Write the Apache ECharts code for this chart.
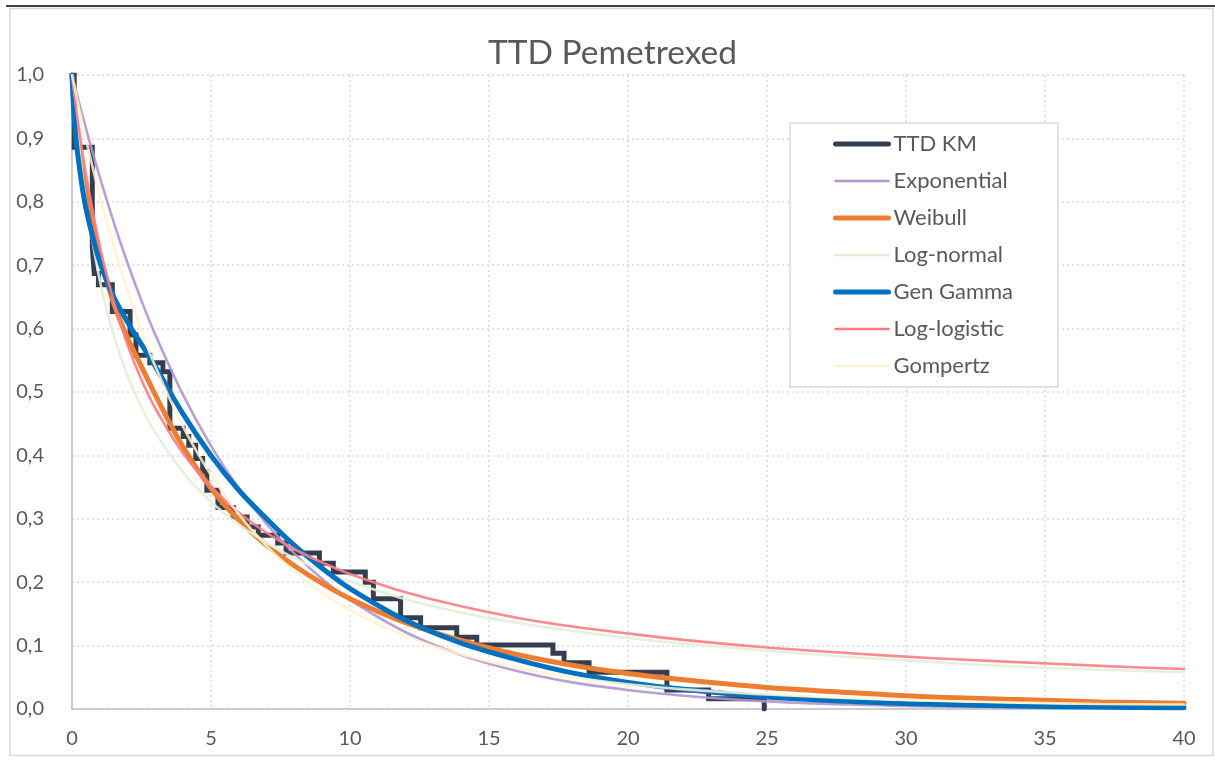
<!DOCTYPE html>
<html>
<head>
<meta charset="utf-8">
<title>TTD Pemetrexed</title>
<script src="https://cdn.jsdelivr.net/npm/echarts@6/dist/echarts.min.js"></script>
<style>
    html, body { margin: 0; padding: 0; background: #fff; }
    #main { width: 1215px; height: 760px; }
</style>
</head>
<body>
<div id="main"></div>
<script>
    // Kaplan-Meier steps (months, survival)
    const kmTime = [0, 0.08, 0.73, 0.8, 0.95, 1.45, 2.09, 2.3, 2.8, 3.27, 3.52, 4.0, 4.2, 4.45, 4.7, 4.85, 5.25, 5.8, 6.3, 6.7,
        7.4, 7.7, 8.9, 9.4, 10.55, 10.84, 11.82, 12.54, 13.84, 14.56, 17.3, 17.7, 18.6, 21.4, 22.9, 24.9];
    const kmSurv = [1.0, 0.886, 0.729, 0.687, 0.669, 0.627, 0.59, 0.558, 0.546, 0.532, 0.443, 0.43, 0.416, 0.395, 0.375, 0.345, 0.318, 0.303, 0.287, 0.274,
        0.262, 0.246, 0.23, 0.216, 0.2, 0.174, 0.144, 0.128, 0.113, 0.101, 0.088, 0.073, 0.058, 0.030, 0.016, 0.0];

    // fitted curves, read at these times
    const curveTime = [0, 0.1, 0.25, 0.5, 1, 1.5, 2, 2.5, 3, 4, 5, 6, 7, 8, 9, 10, 12, 14, 16, 18, 20, 22, 25, 28, 31, 34, 37, 40];
    const exponential = [1, 0.983, 0.957, 0.916, 0.839, 0.768, 0.703, 0.644, 0.590, 0.495, 0.415, 0.348, 0.292, 0.245, 0.205, 0.172, 0.121, 0.085, 0.060, 0.042, 0.030, 0.021, 0.012, 0.007, 0.004, 0.0025, 0.0015, 0.001];
    const weibull = [1, 0.938, 0.884, 0.817, 0.717, 0.640, 0.585, 0.54, 0.495, 0.413, 0.348, 0.298, 0.258, 0.226, 0.198, 0.174, 0.136, 0.108, 0.086, 0.069, 0.056, 0.046, 0.034, 0.026, 0.019, 0.015, 0.011, 0.009];
    const logNormal = [1, 0.960, 0.891, 0.801, 0.676, 0.590, 0.526, 0.476, 0.436, 0.373, 0.327, 0.291, 0.262, 0.238, 0.218, 0.201, 0.173, 0.152, 0.136, 0.123, 0.112, 0.103, 0.092, 0.082, 0.074, 0.067, 0.062, 0.058];
    const genGamma = [1, 0.92, 0.86, 0.79, 0.705, 0.65, 0.61, 0.575, 0.54, 0.465, 0.40, 0.345, 0.30, 0.258, 0.222, 0.19, 0.14, 0.104, 0.078, 0.057, 0.042, 0.031, 0.019, 0.012, 0.0075, 0.0047, 0.003, 0.002];
    const logLogistic = [1, 0.964, 0.915, 0.844, 0.730, 0.643, 0.574, 0.519, 0.474, 0.403, 0.351, 0.310, 0.278, 0.252, 0.231, 0.213, 0.184, 0.162, 0.144, 0.130, 0.119, 0.109, 0.097, 0.088, 0.080, 0.074, 0.068, 0.063];
    const gompertz = [1, 0.979, 0.948, 0.899, 0.809, 0.730, 0.659, 0.596, 0.540, 0.445, 0.369, 0.307, 0.257, 0.217, 0.183, 0.156, 0.115, 0.086, 0.065, 0.050, 0.039, 0.031, 0.023, 0.017, 0.013, 0.010, 0.008, 0.007];

    const yTickLabels = ['0,0', '0,1', '0,2', '0,3', '0,4', '0,5', '0,6', '0,7', '0,8', '0,9', '1,0'];
    const xTickLabels = ['0', '5', '10', '15', '20', '25', '30', '35', '40'];

    const textColor = '#595959';
    const fontName = 'Lato';
    const thick = 5;
    const thin = 2.6;

    function pairs(xs, ys) {
        let out = [];
        for (let i = 0; i < xs.length; i++) {
            out.push([xs[i], ys[i]]);
        }
        return out;
    }

    function curve(name, values, color, width, opacity) {
        return {
            name: name,
            type: 'line',
            data: pairs(curveTime, values),
            symbol: 'none',
            smooth: 0.35,
            lineStyle: {color: color, width: width, opacity: opacity, cap: 'round'},
            itemStyle: {color: color},
            emphasis: {disabled: true}
        };
    }

    function legendItem(name, width) {
        return {name: name, lineStyle: {width: width, cap: 'round', opacity: 1}};
    }

    let myChart = echarts.init(document.getElementById('main'));
    let option = {
        backgroundColor: '#fff',
        animation: false,
        textStyle: {fontFamily: fontName},
        title: {
            text: 'TTD Pemetrexed',
            left: 483,
            top: 31,
            textStyle: {color: textColor, fontSize: 33.5, fontWeight: 'normal', fontFamily: fontName}
        },
        graphic: [
            {type: 'rect', silent: true, z: -10, shape: {x: 10, y: 8.5, width: 1203, height: 747},
                style: {fill: 'none', stroke: '#d9d9d9', lineWidth: 1.5}},
            {type: 'line', silent: true, shape: {x1: 6, y1: 6, x2: 1215, y2: 6},
                style: {stroke: '#000', lineWidth: 1.5}}
        ],
        grid: {
            left: 72,
            right: 31,
            top: 75,
            bottom: 51
        },
        legend: {
            orient: 'vertical',
            left: 790,
            top: 123,
            padding: [10, 45, 10, 43],
            itemWidth: 53,
            itemHeight: 14,
            itemGap: 15,
            backgroundColor: '#fff',
            borderColor: '#d9d9d9',
            borderWidth: 1.5,
            borderRadius: 0,
            itemStyle: {opacity: 0, borderWidth: 0},
            textStyle: {color: textColor, fontSize: 22, fontFamily: fontName},
            data: [
                legendItem('TTD KM', thick),
                legendItem('Exponential', thin),
                legendItem('Weibull', thick),
                legendItem('Log-normal', thin),
                legendItem('Gen Gamma', thick),
                legendItem('Log-logistic', thin),
                legendItem('Gompertz', thin)
            ]
        },
        xAxis: {
            type: 'value',
            min: 0,
            max: 40,
            interval: 5,
            axisLine: {show: true, onZero: false, lineStyle: {color: '#bfbfbf', width: 1.5}},
            axisTick: {show: false},
            axisLabel: {
                color: textColor,
                fontSize: 20,
                margin: 20,
                fontFamily: fontName,
                formatter: function (v) { return xTickLabels[Math.round(v / 5)]; }
            },
            splitLine: {show: true, lineStyle: {color: '#d9d9d9', width: 1.5, type: [2, 3]}}
        },
        yAxis: {
            type: 'value',
            min: 0,
            max: 1,
            interval: 0.1,
            axisLine: {show: true, lineStyle: {color: '#bfbfbf', width: 1.5}},
            axisTick: {show: false},
            axisLabel: {
                color: textColor,
                fontSize: 20,
                margin: 28,
                fontFamily: fontName,
                formatter: function (v) { return yTickLabels[Math.round(v * 10)]; }
            },
            splitLine: {show: true, lineStyle: {color: '#d9d9d9', width: 1.5, type: [2, 3]}}
        },
        series: [
            {
                name: 'TTD KM',
                type: 'line',
                step: 'end',
                data: pairs(kmTime, kmSurv),
                symbol: 'none',
                lineStyle: {color: '#333f50', width: thick, cap: 'round', join: 'miter'},
                itemStyle: {color: '#333f50'},
                emphasis: {disabled: true}
            },
            curve('Exponential', exponential, '#b294cf', thin, 0.9),
            curve('Weibull', weibull, '#ed7d31', thick, 1),
            curve('Log-normal', logNormal, '#e2efda', thin, 0.9),
            curve('Gen Gamma', genGamma, '#0070c0', thick, 1),
            curve('Log-logistic', logLogistic, '#ff7c80', thin, 0.9),
            curve('Gompertz', gompertz, '#fff2cc', thin, 0.85)
        ]
    };
    myChart.setOption(option, true);
</script>
</body>
</html>
